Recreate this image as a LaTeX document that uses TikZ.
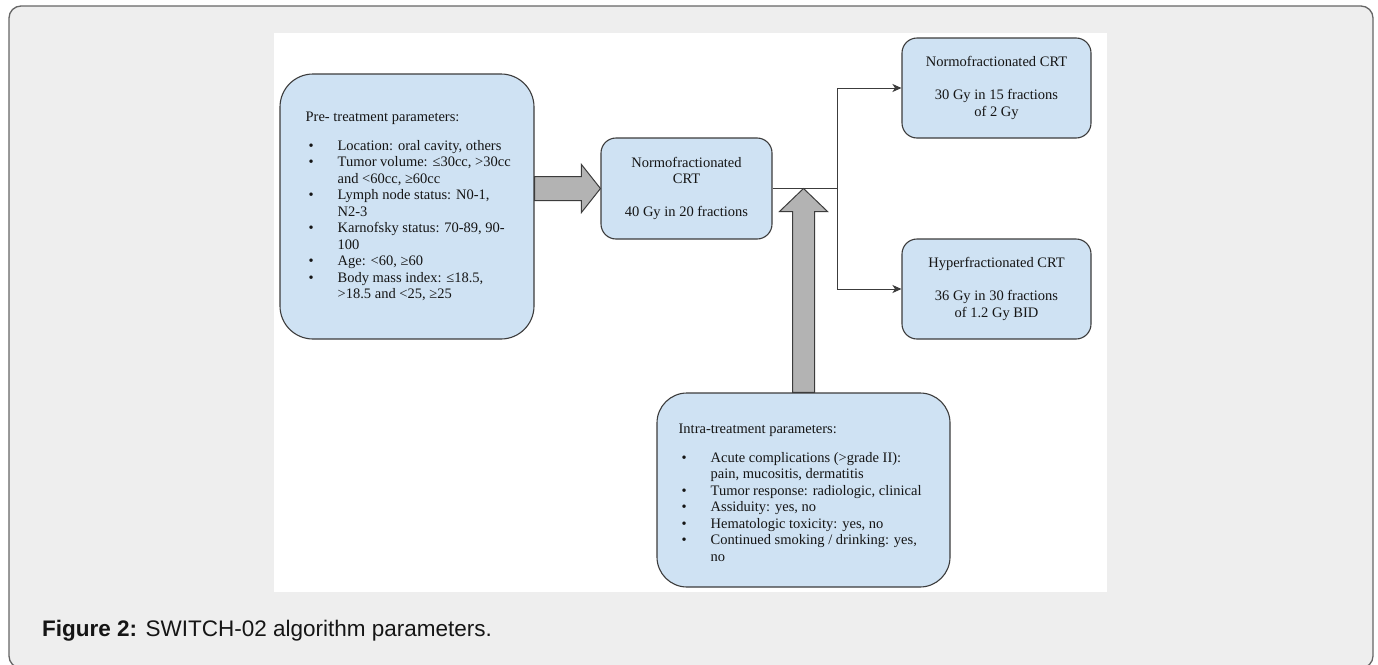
\documentclass[tikz,border=0pt]{standalone}
\usepackage{fontspec}
\setmainfont{Liberation Serif}
\newfontfamily\capfont{Liberation Sans}
\usetikzlibrary{arrows.meta,calc}

\definecolor{pagegray}{HTML}{EEEEEE}
\definecolor{framegray}{HTML}{666666}
\definecolor{boxblue}{HTML}{CFE2F3}
\definecolor{boxline}{HTML}{3C3C3C}
\definecolor{fatgray}{HTML}{B3B3B3}
\definecolor{inkgray}{HTML}{151515}

\tikzset{
	parambox/.style={draw=boxline, line width=1.1pt, fill=boxblue, rounded corners=#1, inner sep=0pt},
	crtbox/.style={parambox=15pt, align=center, text=inkgray, font=\fontsize{14.5}{16.5}\selectfont},
	listtext/.style={align=left, inner sep=0pt, text=inkgray, font=\fontsize{14.5}{16.5}\selectfont},
	fatarrow/.style={draw=boxline, line width=1pt, fill=fatgray, line join=miter},
	wire/.style={draw=boxline, line width=1pt},
	link/.style={wire, -{Stealth[length=9pt,width=8pt,inset=2.5pt]}},
}
\newcommand{\bul}{\makebox[32pt][l]{\hspace{3pt}\textbullet}}
\newcommand{\cont}{\hspace*{32pt}}

\begin{document}
\begin{tikzpicture}[x=1pt, y=-1pt]
	\useasboundingbox (0,0) rectangle (1378,664);
	% draw frame and panel
	\begin{scope}
		\clip (0,0) rectangle (1378,664);
		\draw[framegray, fill=pagegray, line width=1.3pt, rounded corners=12pt] (9,6) rectangle (1373,668);
	\end{scope}
	\fill[white] (274,33) rectangle (1107,592);
	
	% draw boxes
	\node[parambox=33pt, minimum width=254pt, minimum height=265pt] (pre) at (407,206.5) {};
	\node[crtbox, minimum width=171pt, minimum height=101pt] (mid) at (686.5,188.5)
		{Normofractionated\\CRT\\[16.5pt]40 Gy in 20 fractions};
	\node[crtbox, minimum width=189pt, minimum height=100pt] (rtop) at (996.5,88)
		{Normofractionated CRT\\[16.5pt]30 Gy in 15 fractions\\of 2 Gy};
	\node[crtbox, minimum width=189pt, minimum height=100pt] (rbot) at (996.5,289)
		{Hyperfractionated CRT\\[16.5pt]36 Gy in 30 fractions\\of 1.2 Gy BID};
	\node[parambox=30pt, minimum width=293pt, minimum height=194pt] (intra) at (803.5,490) {};
	
	% draw list texts
	\node[listtext, anchor=west] (pretext) at ([xshift=26pt]pre.west) {Pre- treatment parameters:\\[12pt]
		\bul Location: oral cavity, others\\
		\bul Tumor volume: ≤30cc, >30cc\\
		\cont and <60cc, ≥60cc\\
		\bul Lymph node status: N0-1,\\
		\cont N2-3\\
		\bul Karnofsky status: 70-89, 90-\\
		\cont 100\\
		\bul Age: <60, ≥60\\
		\bul Body mass index: ≤18.5,\\
		\cont >18.5 and <25, ≥25};
	\node[listtext, anchor=west] (intratext) at ([xshift=22pt, yshift=-3pt]intra.west) {Intra-treatment parameters:\\[12pt]
		\bul Acute complications (>grade II):\\
		\cont pain, mucositis, dermatitis\\
		\bul Tumor response: radiologic, clinical\\
		\bul Assiduity: yes, no\\
		\bul Hematologic toxicity: yes, no\\
		\bul Continued smoking / drinking: yes,\\
		\cont no};
	
	% draw connectors
	\coordinate (split) at ($(mid.east)+(65,0)$);
	\coordinate (tip) at (intra.north |- mid.east);
	\coordinate (prejoin) at (pre.east |- mid.west);
	\draw[wire] (mid.east) -- (split);
	\draw[link] (split) |- (rtop.west);
	\draw[link] (split) |- (rbot.west);
	
	% draw fat arrows
	\draw[fatarrow] ($(prejoin)+(0,-12)$) -- ($(mid.west)+(-19,-12)$) -- ($(mid.west)+(-19,-24)$) -- (mid.west)
		-- ($(mid.west)+(-19,24)$) -- ($(mid.west)+(-19,12)$) -- ($(prejoin)+(0,12)$) -- cycle;
	\draw[fatarrow] ($(intra.north)+(-11,0)$) -- ($(tip)+(-11,23)$) -- ($(tip)+(-24,23)$) -- (tip)
		-- ($(tip)+(24,23)$) -- ($(tip)+(11,23)$) -- ($(intra.north)+(11,0)$) -- cycle;
	
	% draw caption
	\node[anchor=base west, inner sep=0pt, text=inkgray, font=\capfont\fontsize{22.5}{27}\selectfont] (caption) at (42,636)
		{\textbf{Figure 2:} SWITCH-02 algorithm parameters.};
\end{tikzpicture}
\end{document}
